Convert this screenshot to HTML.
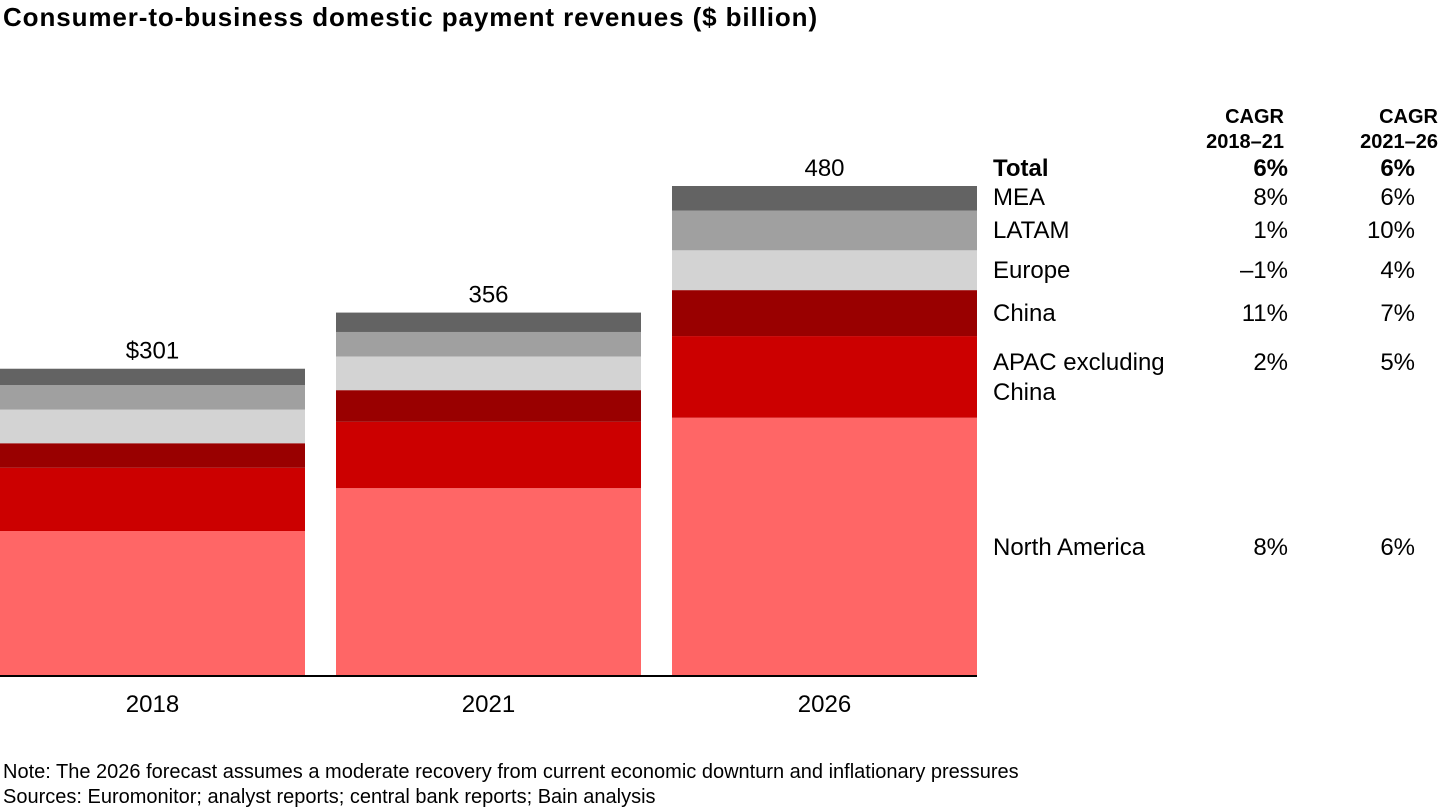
<!DOCTYPE html>
<html><head><meta charset="utf-8"><style>
body{margin:0;width:1440px;height:810px;background:#fff;font-family:"Liberation Sans",sans-serif;overflow:hidden;position:relative}
.t{position:absolute;white-space:nowrap;color:#000}
</style></head><body>
<div class="t" style="left:3px;top:2px;font-size:26px;font-weight:bold;letter-spacing:0.9px">Consumer-to-business domestic payment revenues ($ billion)</div>
<svg id="chart" width="1440" height="810" style="position:absolute;left:0;top:0"></svg>
<div class="t" style="left:3px;top:760px;font-size:20px;line-height:25px">Note: The 2026 forecast assumes a moderate recovery from current economic downturn and inflationary pressures<br>Sources: Euromonitor; analyst reports; central bank reports; Bain analysis</div>
<script>
const years=["2018","2021","2026"];
const totals=["$301","356","480"];
const northAmerica=[142,184,253];
const apac=[62,65,80];
const china=[24,31,45];
const europe=[33,33,39];
const latam=[24,24,39];
const mea=[16,19,24];
const segNames=["North America","APAC excluding China","China","Europe","LATAM","MEA"];
const cagr1=["8%","2%","11%","–1%","1%","8%"];
const cagr2=["6%","5%","7%","4%","10%","6%"];
const series=[northAmerica,apac,china,europe,latam,mea];
const colors=["#ff6666","#cc0000","#990000","#d3d3d3","#a0a0a0","#636363"];
const base=676,scale=490/480,barW=305,gap=31;
const y=v=>base-v*scale;
const svg=document.getElementById('chart');
const NS="http://www.w3.org/2000/svg";
function mk(tag,attrs){const e=document.createElementNS(NS,tag);for(const k in attrs)e.setAttribute(k,attrs[k]);svg.appendChild(e);return e;}
function txt(s,x,yy,anchor,size,weight){const e=mk('text',{x:x,y:yy,'text-anchor':anchor,'font-size':size,'font-family':'Liberation Sans, sans-serif','font-weight':weight||'normal',fill:'#000'});e.textContent=s;return e;}
years.forEach((yr,i)=>{
  const x0=i*(barW+gap);let cum=0;
  series.forEach((s,j)=>{
    const r=mk('rect',{x:x0,y:y(cum+s[i]),width:barW,height:s[i]*scale,fill:colors[j]});
    
    
    cum+=s[i];
  });
  const tl=txt(totals[i],x0+barW/2,y(cum)-10,'middle',24);
  
  
  const xl=txt(yr,x0+barW/2,712,'middle',24);
  
  
});
const ax=mk('line',{x1:0,x2:977,y1:base,y2:base,stroke:'#000','stroke-width':2});


const h=[["CAGR","2018–21",1284],["CAGR","2021–26",1438]];
h.forEach((c,k)=>{const a=txt(c[0],c[2],123,'end',20,'bold');const b=txt(c[1],c[2],148,'end',20,'bold');});
const tot=txt("Total",993,176,'start',24,'bold');
const t1=txt("6%",1288,176,'end',24,'bold');
const t2=txt("6%",1415,176,'end',24,'bold');
const rowY=[555,370,321,278,238,205];
segNames.forEach((n,j)=>{
  let l;
  if(j===1){l=txt("APAC excluding",993,rowY[j],'start',24);const l2=txt("China",993,rowY[j]+30,'start',24);}
  else l=txt(n,993,rowY[j],'start',24);
  
  
  const a=txt(cagr1[j],1288,rowY[j],'end',24);
  const b=txt(cagr2[j],1415,rowY[j],'end',24);
});
</script>
</body></html>
